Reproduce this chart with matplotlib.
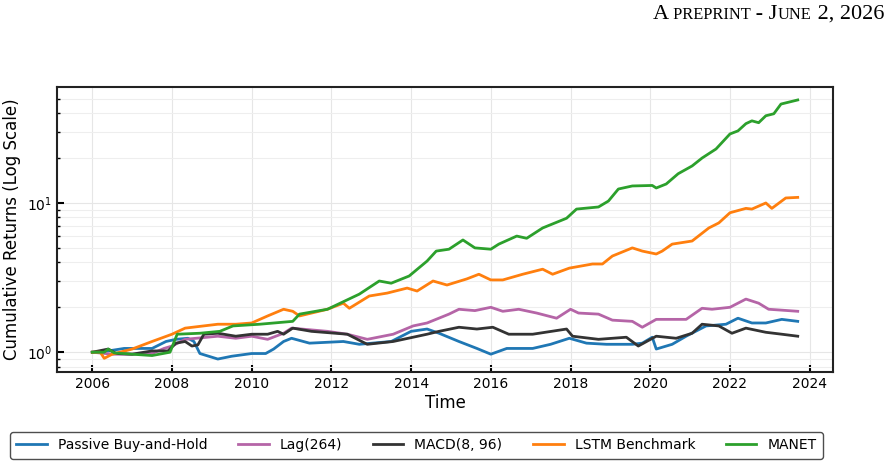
import matplotlib
matplotlib.use("Agg")
import matplotlib.pyplot as plt

# --- data (year, cumulative return) ---
bh_t = [2006.0, 2006.4, 2006.8, 2007.5, 2007.85, 2008.1, 2008.4, 2008.55, 2008.7, 2009.15, 2009.5,
        2010.0, 2010.35, 2010.55, 2010.8, 2011.0, 2011.45, 2012.3, 2012.7, 2013.5, 2014.0, 2014.4,
        2014.7, 2015.2, 2015.65, 2016.0, 2016.4, 2017.05, 2017.5, 2017.97, 2018.4, 2018.9, 2019.2,
        2019.55, 2019.8, 2020.05, 2020.15, 2020.55, 2020.9, 2021.4, 2021.9, 2022.2, 2022.55, 2022.9,
        2023.3, 2023.7]
bh_v = [1.00, 1.02, 1.06, 1.06, 1.18, 1.22, 1.24, 1.18, 0.98, 0.90, 0.94,
        0.98, 0.98, 1.05, 1.18, 1.24, 1.15, 1.18, 1.13, 1.18, 1.38, 1.43,
        1.34, 1.18, 1.06, 0.97, 1.06, 1.06, 1.13, 1.24, 1.15, 1.13, 1.13,
        1.13, 1.15, 1.26, 1.05, 1.13, 1.28, 1.50, 1.54, 1.69, 1.57, 1.57,
        1.66, 1.61]

lag_t = [2006.0, 2006.5, 2007.0, 2007.5, 2007.8, 2008.0, 2008.33, 2009.15, 2009.6, 2010.0, 2010.4,
         2010.8, 2011.0, 2011.9, 2012.4, 2012.9, 2013.55, 2014.05, 2014.4, 2014.95, 2015.2, 2015.6,
         2016.0, 2016.3, 2016.7, 2017.15, 2017.65, 2018.0, 2018.2, 2018.7, 2019.05, 2019.55, 2019.8,
         2020.15, 2020.55, 2020.9, 2021.3, 2021.55, 2022.0, 2022.4, 2022.72, 2022.97, 2023.22, 2023.7]
lag_v = [1.00, 0.97, 0.97, 0.98, 1.06, 1.10, 1.22, 1.28, 1.24, 1.28, 1.22,
         1.34, 1.45, 1.38, 1.32, 1.22, 1.32, 1.50, 1.57, 1.80, 1.94, 1.90,
         2.00, 1.88, 1.94, 1.83, 1.69, 1.94, 1.83, 1.80, 1.64, 1.61, 1.47,
         1.66, 1.66, 1.66, 1.97, 1.94, 2.00, 2.27, 2.13, 1.94, 1.92, 1.88]

macd_t = [2006.0, 2006.4, 2006.6, 2007.0, 2007.5, 2007.9, 2008.1, 2008.33, 2008.5, 2008.65, 2008.8,
          2009.15, 2009.6, 2010.0, 2010.4, 2010.65, 2010.8, 2011.03, 2011.5, 2012.4, 2012.9, 2013.55,
          2014.4, 2014.7, 2015.2, 2015.65, 2016.05, 2016.45, 2017.05, 2017.9, 2018.05, 2018.7, 2019.4,
          2019.7, 2020.15, 2020.65, 2021.05, 2021.3, 2021.72, 2022.05, 2022.4, 2022.9, 2023.3, 2023.7]
macd_v = [1.00, 1.05, 0.98, 0.97, 1.02, 1.02, 1.15, 1.18, 1.10, 1.12, 1.32,
          1.34, 1.28, 1.32, 1.32, 1.38, 1.32, 1.45, 1.38, 1.32, 1.13, 1.18,
          1.32, 1.38, 1.47, 1.43, 1.47, 1.32, 1.32, 1.43, 1.28, 1.22, 1.26,
          1.10, 1.28, 1.24, 1.34, 1.54, 1.50, 1.34, 1.45, 1.36, 1.32, 1.28]

lstm_t = [2006.0, 2006.2, 2006.3, 2006.5, 2007.0, 2007.5, 2008.0, 2008.33, 2009.15, 2009.6, 2010.0,
          2010.4, 2010.8, 2011.03, 2011.2, 2011.9, 2012.3, 2012.45, 2012.95, 2013.4, 2013.9, 2014.15,
          2014.55, 2014.9, 2015.4, 2015.7, 2016.0, 2016.3, 2016.8, 2017.3, 2017.55, 2017.97, 2018.55,
          2018.8, 2019.05, 2019.55, 2019.8, 2020.15, 2020.3, 2020.55, 2021.05, 2021.47, 2021.72, 2022.0,
          2022.4, 2022.55, 2022.9, 2023.05, 2023.4, 2023.7]
lstm_v = [1.00, 1.00, 0.91, 0.97, 1.05, 1.18, 1.32, 1.45, 1.54, 1.54, 1.57,
          1.75, 1.94, 1.88, 1.75, 1.94, 2.13, 1.97, 2.38, 2.49, 2.69, 2.57,
          3.00, 2.82, 3.10, 3.33, 3.05, 3.05, 3.33, 3.60, 3.33, 3.66, 3.90,
          3.90, 4.41, 5.00, 4.76, 4.55, 4.76, 5.30, 5.56, 6.80, 7.35, 8.60,
          9.20, 9.10, 10.0, 9.20, 10.8, 10.9]

manet_t = [2006.0, 2006.3, 2006.4, 2006.55, 2007.0, 2007.5, 2007.95, 2008.13, 2008.7, 2009.2, 2009.53,
           2010.2, 2011.03, 2011.2, 2011.9, 2012.7, 2013.2, 2013.5, 2013.95, 2014.4, 2014.63, 2014.95,
           2015.3, 2015.6, 2016.0, 2016.2, 2016.65, 2016.9, 2017.3, 2017.9, 2018.15, 2018.7, 2018.95,
           2019.2, 2019.55, 2020.05, 2020.15, 2020.4, 2020.7, 2021.05, 2021.3, 2021.65, 2022.0, 2022.2,
           2022.4, 2022.55, 2022.72, 2022.9, 2023.1, 2023.28, 2023.7]
manet_v = [1.00, 1.00, 1.05, 0.99, 0.97, 0.95, 1.00, 1.32, 1.34, 1.38, 1.50,
           1.54, 1.61, 1.80, 1.94, 2.45, 3.00, 2.90, 3.24, 4.08, 4.76, 4.90,
           5.65, 5.00, 4.90, 5.30, 6.00, 5.80, 6.80, 7.90, 9.10, 9.40, 10.3,
           12.4, 13.0, 13.1, 12.6, 13.4, 15.7, 17.7, 20.0, 23.0, 29.0, 30.4,
           34.0, 35.5, 34.5, 38.4, 39.6, 46.0, 49.0]

labels = ["Passive Buy-and-Hold", "Lag(264)", "MACD(8, 96)", "LSTM Benchmark", "MANET"]
colors = ["#1f77b4", "#b565a7", "#333333", "#ff7f0e", "#2ca02c"]

fig = plt.figure(figsize=(8.93, 4.65), dpi=100)
ax = fig.add_axes([57 / 893, 1 - 372 / 465, 776 / 893, 285 / 465])

series = [(bh_t, bh_v), (lag_t, lag_v), (macd_t, macd_v), (lstm_t, lstm_v), (manet_t, manet_v)]
for (t, v), lab, c in zip(series, labels, colors):
    ax.plot(t, v, color=c, lw=2, label=lab)

ax.set_yscale("log")
ax.set_xticks(range(2006, 2025, 2))
ax.grid(True, which="major", color="#e6e6e6", lw=0.8)
ax.grid(True, which="minor", axis="y", color="#eeeeee", lw=0.8)
ax.tick_params(which="both", direction="in", labelsize=10)
ax.tick_params(which="major", length=5, width=1.5)
ax.tick_params(which="minor", length=2.5, width=1)
for s in ax.spines.values():
    s.set_linewidth(1.5)
    s.set_color("#222222")
ax.set_xlabel("Time", fontsize=12, labelpad=2)
ax.set_ylabel("Cumulative Returns (Log Scale)", fontsize=12)

leg = fig.legend(loc="upper left", bbox_to_anchor=(10 / 893, 1 - 432 / 465), ncol=5,
                 fontsize=10, frameon=True, fancybox=True, edgecolor="#222222",
                 handlelength=2.2, columnspacing=2.2, borderpad=0.45, borderaxespad=0)
leg.get_frame().set_linewidth(1.0)

# header in fake small caps
parts = [("A", 16), (" PREPRINT", 11.8), (" - J", 16), ("UNE", 11.8), (" 2, 2026", 16)]
texts = [fig.text(0, 1 - 19 / 465, s, fontsize=fs, family="Liberation Serif", va="baseline")
         for s, fs in parts]
fig.canvas.draw()
r = fig.canvas.get_renderer()
widths = [t.get_window_extent(r).width for t in texts]
x = 884 - sum(widths)
for t, w in zip(texts, widths):
    t.set_x(x / 893)
    x += w

fig.savefig("out.png", dpi=100)
